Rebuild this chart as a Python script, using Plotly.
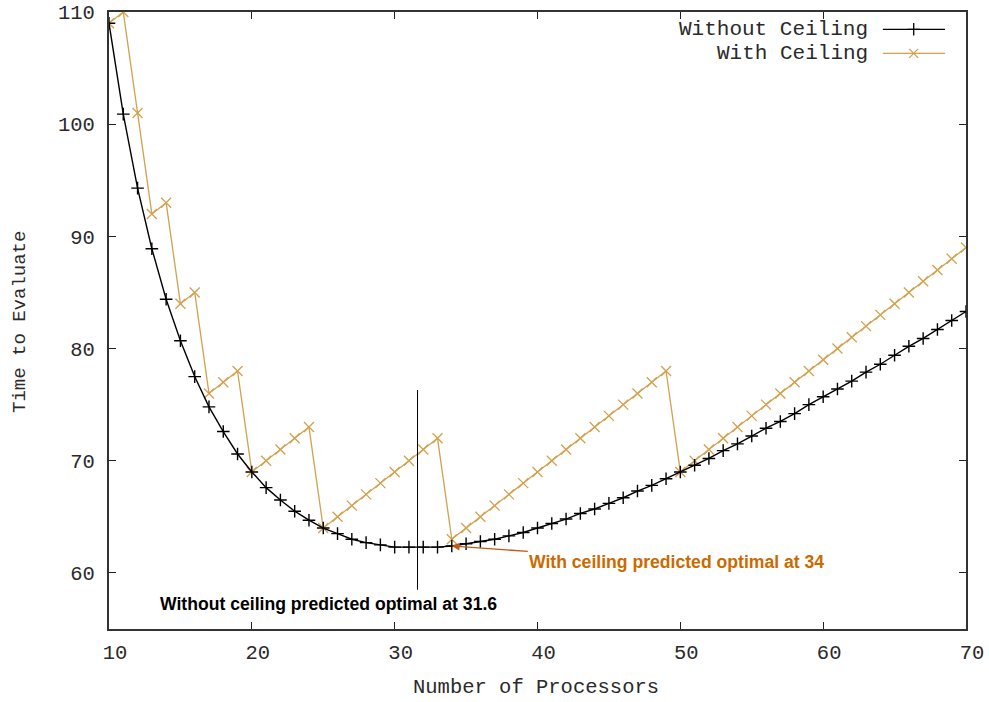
import plotly.graph_objects as go

processors = list(range(10, 71))
without_ceiling = [
    109.0, 100.9, 94.3, 88.9, 84.4, 80.7, 77.5, 74.8, 72.6, 70.6,
    69.0, 67.6, 66.5, 65.5, 64.7, 64.0, 63.5, 63.0, 62.7, 62.5,
    62.3, 62.3, 62.3, 62.3, 62.4, 62.6, 62.8, 63.0, 63.3, 63.6,
    64.0, 64.4, 64.8, 65.3, 65.7, 66.2, 66.7, 67.3, 67.8, 68.4,
    69.0, 69.6, 70.2, 70.9, 71.5, 72.2, 72.9, 73.5, 74.2, 75.0,
    75.7, 76.4, 77.1, 77.9, 78.6, 79.4, 80.2, 80.9, 81.7, 82.5,
    83.3,
]
with_ceiling = [
    109, 110, 101, 92, 93, 84, 85, 76, 77, 78,
    69, 70, 71, 72, 73, 64, 65, 66, 67, 68,
    69, 70, 71, 72, 63, 64, 65, 66, 67, 68,
    69, 70, 71, 72, 73, 74, 75, 76, 77, 78,
    69, 70, 71, 72, 73, 74, 75, 76, 77, 78,
    79, 80, 81, 82, 83, 84, 85, 86, 87, 88,
    89,
]
series_names = ["Without Ceiling", "With Ceiling"]
x_ticks = [10, 20, 30, 40, 50, 60, 70]
y_ticks = [60, 70, 80, 90, 100, 110]
opt_no_ceiling = 31.6
opt_ceiling_x, opt_ceiling_y = 34, 62.4

BLACK = "#000000"
ORANGE = "#d3a14e"
TXT = "#2a2a2a"
MONO = "Liberation Mono, DejaVu Sans Mono, monospace"
SANS = "Liberation Sans, Arial, sans-serif"

fig = go.Figure()
fig.add_trace(go.Scatter(
    x=processors, y=with_ceiling, mode="lines+markers", name=series_names[1],
    line=dict(color=ORANGE, width=1.3),
    marker=dict(symbol="x-thin", size=10, line=dict(color=ORANGE, width=1.3)),
    showlegend=False,
))
fig.add_trace(go.Scatter(
    x=processors, y=without_ceiling, mode="lines+markers", name=series_names[0],
    line=dict(color=BLACK, width=1.4),
    marker=dict(symbol="cross-thin", size=9, line=dict(color=BLACK, width=1.4)),
    showlegend=False,
))

# custom gnuplot-style legend (text then sample)
legend_rows = [(0.972, series_names[0], BLACK, "cross-thin"),
               (0.933, series_names[1], ORANGE, "x-thin")]
for yy, name, col, sym in legend_rows:
    fig.add_annotation(xref="paper", yref="paper", x=0.888, y=yy, text=name,
                       showarrow=False, xanchor="right", yanchor="middle",
                       font=dict(family=MONO, size=21, color=TXT))
    fig.add_shape(type="line", xref="paper", yref="paper", x0=0.903, x1=0.9755,
                  y0=yy, y1=yy, line=dict(color=col, width=1.3))
    fig.add_trace(go.Scatter(x=[0.939], y=[yy], xaxis="x2", yaxis="y2", mode="markers",
                             marker=dict(symbol=sym, size=9, line=dict(color=col, width=1.3)),
                             showlegend=False, hoverinfo="skip"))

# axis titles
fig.add_annotation(xref="paper", yref="paper", x=0.498, y=-0.0956, text="Number of Processors",
                   showarrow=False, xanchor="center", yanchor="middle",
                   font=dict(family=MONO, size=20.5, color=TXT))
fig.add_annotation(xref="paper", yref="paper", x=-0.1038, y=0.4976, text="Time to Evaluate",
                   showarrow=False, xanchor="center", yanchor="middle", textangle=-90,
                   font=dict(family=MONO, size=19, color=TXT))

# vertical line at unconstrained optimum
fig.add_shape(type="line", xref="x", yref="y", x0=opt_no_ceiling, x1=opt_no_ceiling,
              y0=58.5, y1=76.3, line=dict(color=BLACK, width=1))
fig.add_annotation(xref="x", yref="y", x=25.37, y=57.24,
                   text="<b>Without ceiling predicted optimal at 31.6</b>",
                   showarrow=False, font=dict(family=SANS, size=17.6, color=BLACK))
fig.add_annotation(xref="x", yref="y", x=opt_ceiling_x, y=opt_ceiling_y,
                   text="<b>With ceiling predicted optimal at 34</b>",
                   showarrow=True, ax=225, ay=16, arrowhead=2, arrowsize=1.2,
                   arrowwidth=1.3, arrowcolor="#c05a10", standoff=0,
                   font=dict(family=SANS, size=17.6, color="#cc6a00"))

axis_common = dict(showgrid=False, zeroline=False, ticks="inside", ticklen=7,
                   tickwidth=1, tickcolor="#222", showline=True, linecolor="#333",
                   linewidth=2, mirror="ticks", automargin=False,
                   tickfont=dict(family=MONO, size=20.5, color=TXT))
fig.update_layout(
    width=989, height=702,
    margin=dict(l=109, r=23, t=12, b=73),
    paper_bgcolor="white", plot_bgcolor="white",
    xaxis=dict(range=[10, 70], tickvals=x_ticks, ticklabelstandoff=3, ticklabelshift=6,
               **axis_common),
    yaxis=dict(range=[55, 110], tickvals=y_ticks, ticklabelstandoff=8, **axis_common),
    xaxis2=dict(range=[0, 1], overlaying="x", visible=False),
    yaxis2=dict(range=[0, 1], overlaying="y", visible=False),
    showlegend=False,
)
fig.write_html("out.html", config={"displayModeBar": False},
               post_script="document.body.style.margin='0';")
